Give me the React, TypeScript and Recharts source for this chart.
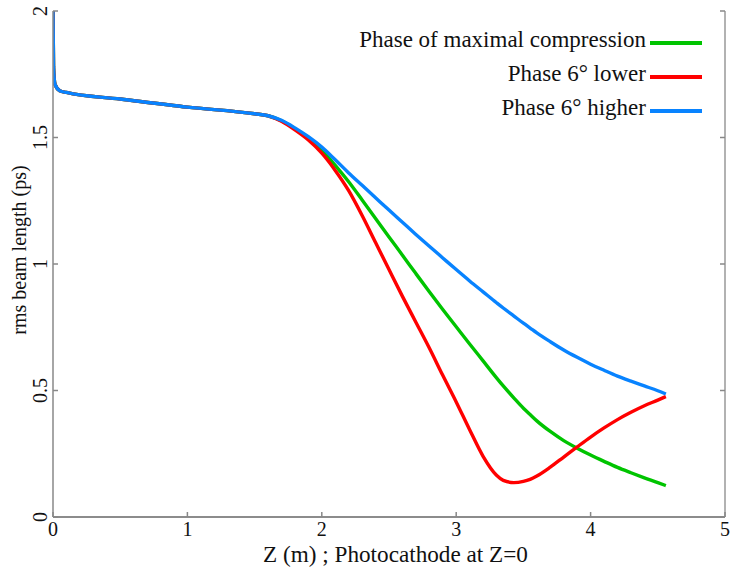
import { Label, Line, LineChart, XAxis, YAxis } from "recharts";

const zValues = [
  0, 0.004, 0.015, 0.05, 0.1, 0.5, 1.0, 1.5, 1.6, 1.7, 1.8, 1.9, 2.0, 2.1, 2.2,
  2.3, 2.4, 2.5, 2.6, 2.7, 2.8, 2.9, 3.0, 3.1, 3.2, 3.3, 3.35, 3.43, 3.5, 3.55,
  3.6, 3.7, 3.8, 3.9, 4.0, 4.1, 4.2, 4.3, 4.4, 4.5, 4.56,
];

const greenValues = [
  2.0, 1.78, 1.71, 1.685, 1.678, 1.652, 1.62, 1.594, 1.586, 1.566, 1.534, 1.496,
  1.45, 1.39, 1.325, 1.253, 1.18, 1.107, 1.035, 0.962, 0.89, 0.82, 0.752, 0.684,
  0.617, 0.55, 0.518, 0.47, 0.43, 0.405, 0.38, 0.338, 0.302, 0.272, 0.245, 0.22,
  0.196, 0.175, 0.155, 0.136, 0.124,
];

const redValues = [
  2.0, 1.78, 1.71, 1.685, 1.678, 1.652, 1.62, 1.594, 1.586, 1.564, 1.53, 1.49,
  1.438, 1.37, 1.29, 1.192, 1.085, 0.978, 0.872, 0.77, 0.668, 0.56, 0.455, 0.345,
  0.24, 0.165, 0.145, 0.136, 0.141, 0.149, 0.162, 0.197, 0.237, 0.277, 0.316,
  0.352, 0.385, 0.414, 0.44, 0.462, 0.476,
];

const blueValues = [
  2.0, 1.78, 1.71, 1.685, 1.678, 1.652, 1.62, 1.594, 1.586, 1.568, 1.538, 1.503,
  1.462, 1.412, 1.36, 1.311, 1.262, 1.213, 1.165, 1.117, 1.07, 1.024, 0.978,
  0.933, 0.89, 0.847, 0.826, 0.794, 0.766, 0.747, 0.728, 0.693, 0.66, 0.631,
  0.604, 0.58, 0.557, 0.537, 0.518, 0.499, 0.486,
];

const seriesKeys = ["green", "red", "blue"];
const seriesNames = [
  "Phase of maximal compression",
  "Phase 6\u00b0 lower",
  "Phase 6\u00b0 higher",
];
const seriesColors = ["#00c400", "#ff0000", "#0883ff"];

const xTicks = [0, 1, 2, 3, 4, 5];
const yTicks = [0, 0.5, 1, 1.5, 2];

const data = zValues.map((z, i) => ({
  z,
  green: greenValues[i],
  red: redValues[i],
  blue: blueValues[i],
}));

const FONT = '"Liberation Serif", "Times New Roman", Times, serif';
const TICK_LEN = 5;

const BottomTick = ({ x, y, payload }: any) => (
  <g>
    <line x1={x} x2={x} y1={y} y2={y - TICK_LEN} stroke="#888" strokeWidth={1.5} />
    <text x={x} y={y + 19} textAnchor="middle" fontSize={20} style={{ fontFamily: FONT }} fill="#111">
      {payload.value}
    </text>
  </g>
);

const TopTick = ({ x, y }: any) => (
  <line x1={x} x2={x} y1={y} y2={y + TICK_LEN} stroke="#888" strokeWidth={1.5} />
);

const LeftTick = ({ x, y, payload }: any) => (
  <g>
    <line x1={x + 6} x2={x + 6 + TICK_LEN} y1={y} y2={y} stroke="#888" strokeWidth={1.5} />
    <text
      transform={`translate(${x}, ${y}) rotate(-90)`}
      textAnchor="middle"
      fontSize={20}
      style={{ fontFamily: FONT }}
      fill="#111"
    >
      {payload.value}
    </text>
  </g>
);

const RightTick = ({ x, y }: any) => (
  <line x1={x - TICK_LEN} x2={x} y1={y} y2={y} stroke="#888" strokeWidth={1.5} />
);

const XTitle = ({ viewBox }: any) => (
  <text
    x={viewBox.x + viewBox.width / 2 + 6.5}
    y={viewBox.y + 45}
    textAnchor="middle"
    fontSize={23.2}
    style={{ fontFamily: FONT }}
    fill="#111"
  >
    Z (m) ; Photocathode at Z=0
  </text>
);

const YTitle = ({ viewBox }: any) => {
  const cx = viewBox.x + 26;
  const cy = viewBox.y + viewBox.height / 2 - 14;
  return (
    <text
      transform={`translate(${cx}, ${cy}) rotate(-90)`}
      textAnchor="middle"
      fontSize={20}
      style={{ fontFamily: FONT }}
      fill="#111"
    >
      rms beam length (ps)
    </text>
  );
};

function LegendBox() {
  return (
    <div
      style={{
        position: "absolute",
        top: 23,
        right: 29,
        fontFamily: FONT,
        fontSize: 23,
        color: "#111",
      }}
    >
      {seriesNames.map((name, i) => (
        <div
          key={name}
          style={{
            display: "flex",
            justifyContent: "flex-end",
            alignItems: "center",
            height: 34,
            lineHeight: "34px",
            whiteSpace: "nowrap",
          }}
        >
          <span>{name}</span>
          <span
            style={{
              display: "inline-block",
              width: 52,
              height: 4,
              marginLeft: 4,
              background: seriesColors[i],
              transform: "translateY(3px)",
            }}
          />
        </div>
      ))}
    </div>
  );
}

export default function App() {
  return (
    <div style={{ position: "absolute", left: 0, top: 0, width: 731, height: 568, background: "#fff" }}>
      <LineChart
        width={731}
        height={568}
        data={data}
        margin={{ top: 11, right: 5, bottom: 0, left: 0 }}
      >
        <XAxis
          dataKey="z"
          type="number"
          domain={[0, 5]}
          ticks={xTicks}
          allowDataOverflow
          height={51}
          tickSize={0}
          tickMargin={0}
          tickLine={false}
          tick={<BottomTick />}
          stroke="#666"
          strokeWidth={1.5}
        >
          <Label content={<XTitle />} />
        </XAxis>
        <XAxis
          xAxisId="top"
          orientation="top"
          type="number"
          domain={[0, 5]}
          ticks={xTicks}
          allowDataOverflow
          height={0}
          tickSize={0}
          tickMargin={0}
          tickLine={false}
          tick={<TopTick />}
          stroke="#444"
          strokeWidth={1.5}
        />
        <YAxis
          type="number"
          domain={[0, 2]}
          ticks={yTicks}
          allowDataOverflow
          width={53}
          tickSize={0}
          tickMargin={6}
          tickLine={false}
          tick={<LeftTick />}
          stroke="#888"
          strokeWidth={1.5}
        >
          <Label content={<YTitle />} />
        </YAxis>
        <YAxis
          yAxisId="right"
          orientation="right"
          type="number"
          domain={[0, 2]}
          ticks={yTicks}
          allowDataOverflow
          width={1}
          tickSize={0}
          tickMargin={0}
          tickLine={false}
          tick={<RightTick />}
          stroke="#999"
          strokeWidth={1.5}
        />
        {seriesKeys.map((key, i) => (
          <Line
            key={key}
            dataKey={key}
            name={seriesNames[i]}
            type="monotone"
            stroke={seriesColors[i]}
            strokeWidth={3.4}
            dot={false}
            isAnimationActive={false}
          />
        ))}
      </LineChart>
      <LegendBox />
    </div>
  );
}
